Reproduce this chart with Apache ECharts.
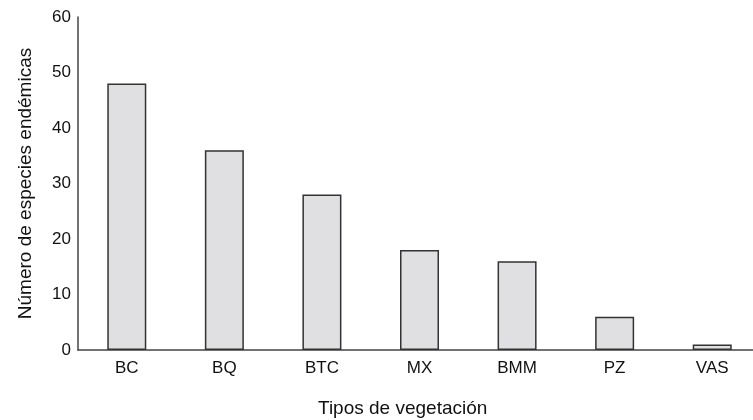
<!DOCTYPE html>
<html>
<head>
<meta charset="utf-8">
<script src="https://cdn.jsdelivr.net/npm/echarts@6/dist/echarts.min.js"></script>
<style>
  html, body { margin: 0; padding: 0; background: #fff; }
  #chart { width: 753px; height: 420px; }
</style>
</head>
<body>
<div id="chart"></div>
<script>
const categories = ['BC', 'BQ', 'BTC', 'MX', 'BMM', 'PZ', 'VAS']
const endemicCounts = [48, 36, 28, 18, 16, 6, 1]
const yTicks = [0, 10, 20, 30, 40, 50, 60]

const chart = echarts.init(document.getElementById('chart'))
const font = 'Liberation Sans, Arial, sans-serif'

const option = {
  animation: false,
  grid: {
    left: 78,
    width: 683,
    top: 17,
    bottom: 70,
    outerBoundsMode: 'none',
  },
  xAxis: {
    type: 'category',
    data: categories,
    axisLine: { lineStyle: { color: '#444', width: 1.5 } },
    axisTick: { show: false },
    axisLabel: { color: '#111', fontSize: 17, fontFamily: font, margin: 10 },
  },
  yAxis: {
    type: 'value',
    min: yTicks[0],
    max: yTicks[yTicks.length - 1],
    interval: 10,
    name: 'Número de especies endémicas',
    nameLocation: 'middle',
    nameGap: 43,
    nameTextStyle: { color: '#111', fontSize: 19, fontFamily: font },
    splitLine: { show: false },
    axisLine: { show: true, lineStyle: { color: '#444', width: 1.5 } },
    axisTick: { show: false },
    axisLabel: { color: '#111', fontSize: 17, fontFamily: font, margin: 7 },
  },
  graphic: [
    {
      type: 'text',
      left: 318,
      top: 399,
      style: {
        text: 'Tipos de vegetación',
        fill: '#111',
        font: '19px ' + font,
      },
    },
  ],
  series: [
    {
      type: 'bar',
      data: endemicCounts,
      barWidth: 39,
      itemStyle: {
        color: '#e0e0e2',
        borderColor: '#333',
        borderWidth: 1.5,
      },
    },
  ],
}

chart.setOption(option)
</script>
</body>
</html>
